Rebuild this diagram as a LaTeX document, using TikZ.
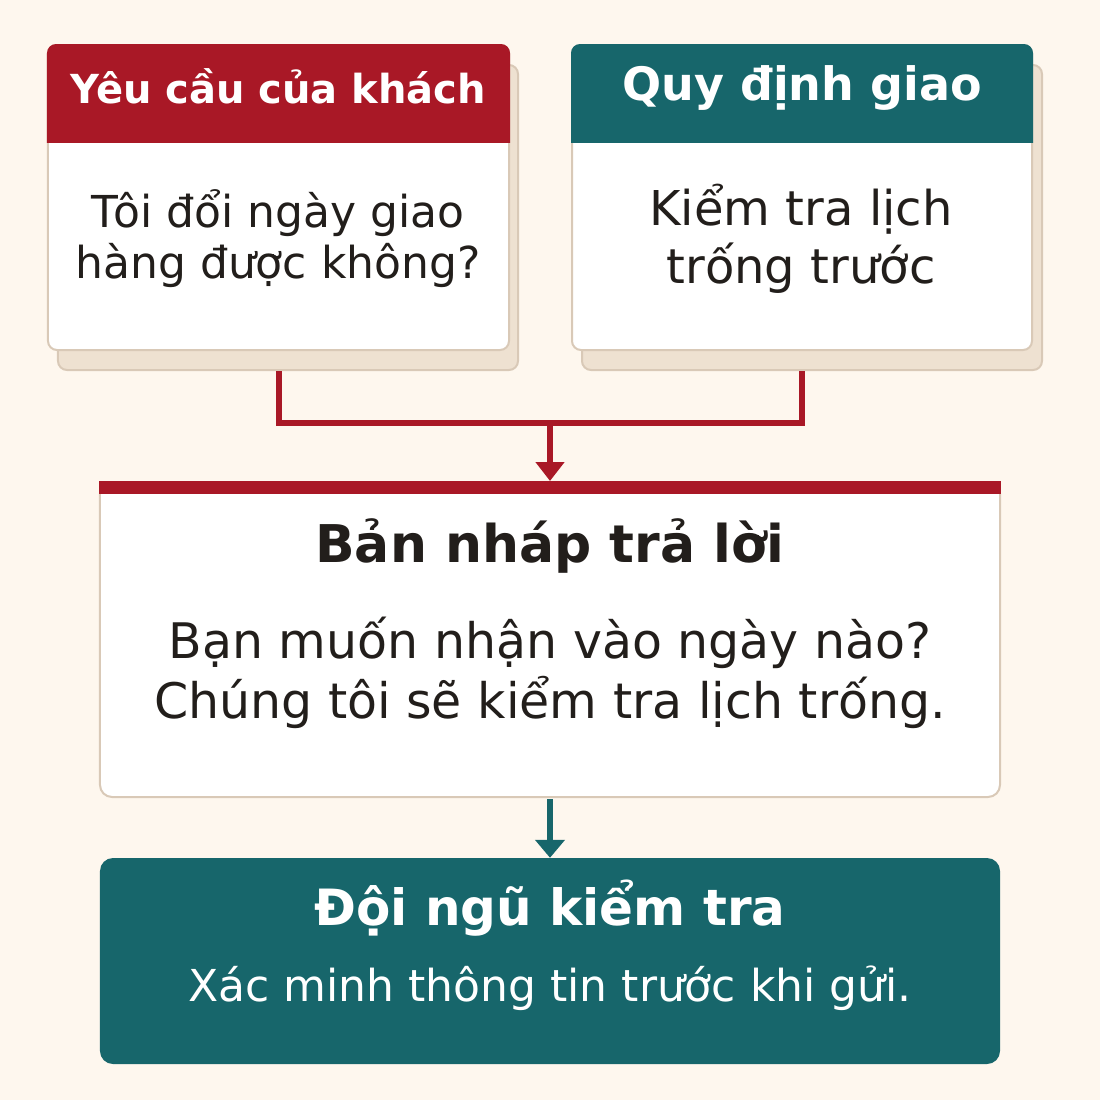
\documentclass[tikz,border=0pt]{standalone}
\usepackage{fontspec}
\setmainfont{DejaVu Sans}
\usetikzlibrary{arrows.meta}
\definecolor{bgc}{HTML}{FEF7EE}
\definecolor{brd}{HTML}{D9C9B7}
\definecolor{shd}{HTML}{EEE1D1}
\definecolor{hred}{HTML}{A91826}
\definecolor{hteal}{HTML}{17666B}
\definecolor{ink}{HTML}{221E1B}
\newcommand{\fs}[2]{\fontsize{#1bp}{#2bp}\selectfont}
\begin{document}
\begin{tikzpicture}[x=1bp,y=-1bp,
  cardbox/.style={draw=brd, line width=2bp, fill=white, rounded corners=9bp, inner sep=0pt},
  shadowbox/.style={draw=brd, line width=2bp, fill=shd, rounded corners=9bp, inner sep=0pt,
     minimum width=460bp, minimum height=305bp},
  txt/.style={anchor=base, inner sep=0pt, text=ink},
  wtxt/.style={anchor=base, inner sep=0pt, text=white},
  conn/.style={draw=hred, line width=6bp},
  tconn/.style={draw=hteal, line width=6bp}]
\useasboundingbox (0,0) rectangle (1100,1100);
\fill[bgc] (0,0) rectangle (1100,1100);

% shadows
\node[shadowbox] (reqsh) at (288,217.5) {};
\node[shadowbox] (polsh) at (812,217.5) {};

% cards
\node[cardbox, minimum width=461bp, minimum height=305bp] (req) at (278.5,197.5) {};
\node[cardbox, minimum width=460bp, minimum height=305bp] (pol) at (802,197.5) {};

% headers
\begin{scope}
  \clip[rounded corners=9bp] (req.north west) rectangle (req.south east);
  \fill[hred] ([xshift=-2bp,yshift=2bp]req.north west) rectangle ([xshift=2bp]req.east |- 0,143);
\end{scope}
\begin{scope}
  \clip[rounded corners=9bp] (pol.north west) rectangle (pol.south east);
  \fill[hteal] ([xshift=-2bp,yshift=2bp]pol.north west) rectangle ([xshift=2bp]pol.east |- 0,143);
\end{scope}

\node[wtxt, font=\fs{40}{48}\bfseries] (reqh) at (278.5,103) {Yêu cầu của khách};
\node[wtxt, font=\fs{46}{55}\bfseries] (polh) at (802,100) {Quy định giao};

\node[txt, font=\fs{44}{55}] (reqa) at (278,227) {Tôi đổi ngày giao};
\node[txt, font=\fs{44}{55}] (reqb) at (278,278) {hàng được không?};

\node[txt, font=\fs{48}{58}] (pola) at (801,225) {Kiểm tra lịch};
\node[txt, font=\fs{48}{58}] (polb) at (801,283) {trống trước};

% draft box
\node[cardbox, minimum width=900bp, minimum height=315bp, rounded corners=12bp] (draft) at (550,639.5) {};
\fill[hred] (draft.north west) rectangle ([yshift=-13bp]draft.north east);
\node[txt, font=\fs{52}{60}\bfseries] (drafth) at (550,562) {Bản nháp trả lời};
\node[txt, font=\fs{49}{60}] (drafta) at (550,658) {Bạn muốn nhận vào ngày nào?};
\node[txt, font=\fs{49}{60}] (draftb) at (550,718) {Chúng tôi sẽ kiểm tra lịch trống.};

% team box
\node[fill=hteal, rounded corners=13bp, inner sep=0pt, minimum width=900bp, minimum height=206bp] (team) at (550,961) {};
\node[wtxt, font=\fs{50}{60}\bfseries] (teamh) at (550,925) {Đội ngũ kiểm tra};
\node[wtxt, font=\fs{44}{55}] (teamb) at (550,1001) {Xác minh thông tin trước khi gửi.};

% connectors
\coordinate (join) at (550,422.5);
\draw[conn] (req.south |- reqsh.south) |- (join) -| (pol.south |- polsh.south);
\draw[conn, -{Triangle[width=28bp,length=19bp]}] (join) -- (draft.north);
\draw[tconn, -{Triangle[width=29bp,length=18bp]}] ([yshift=-1bp]draft.south) -- (team.north);
\end{tikzpicture}
\end{document}
